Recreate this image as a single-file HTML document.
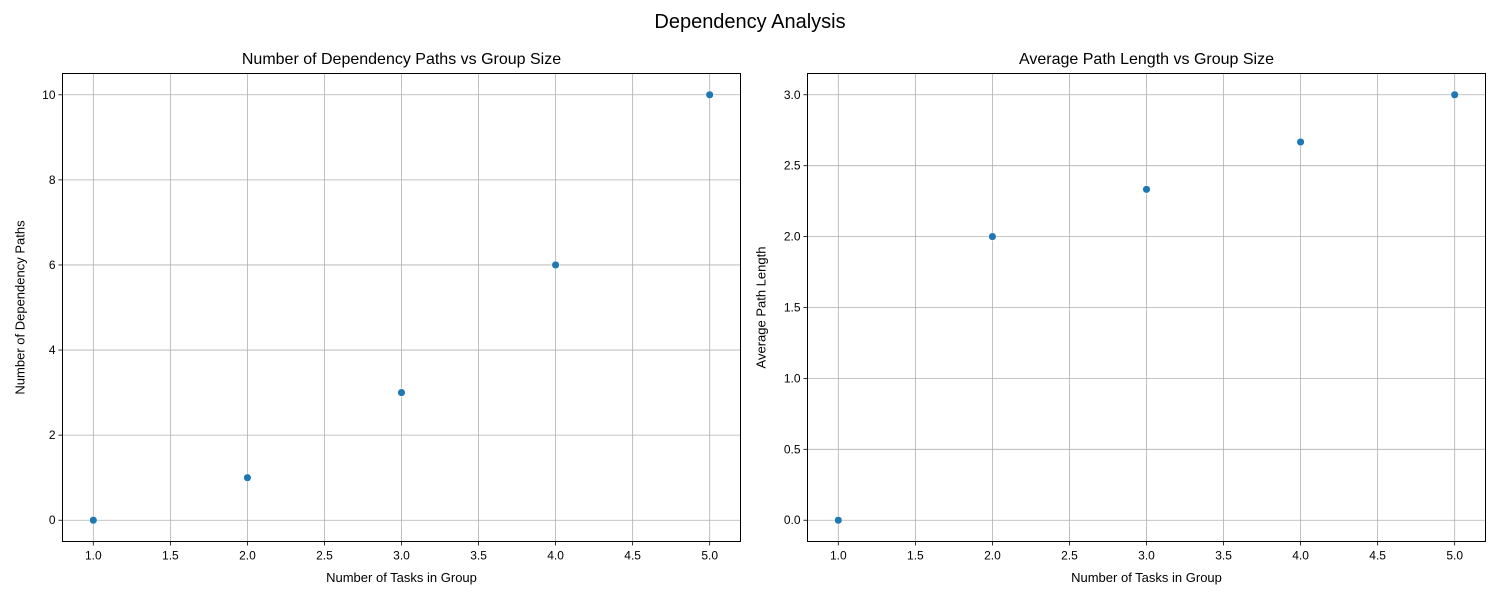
<!DOCTYPE html>
<html><head><meta charset="utf-8"><style>
body{margin:0;background:#fff;font-family:"Liberation Sans",sans-serif}
svg text{font-family:"Liberation Sans","DejaVu Sans",sans-serif;fill:#000}
</style></head><body>
<svg id="fig" width="1500" height="600" xmlns="http://www.w3.org/2000/svg">
<rect width="1500" height="600" fill="#fff"/>
<text x="750" y="28" font-size="20" text-anchor="middle">Dependency Analysis</text>
</svg>
<script>
const groupSizes=[1,2,3,4,5];
const pathCounts=[0,1,3,6,10];
const avgLengths=[0,2,2.333,2.667,3];
const xTicks=[1.0,1.5,2.0,2.5,3.0,3.5,4.0,4.5,5.0];
const yTicksLeft=[0,2,4,6,8,10];
const yTicksRight=[0.0,0.5,1.0,1.5,2.0,2.5,3.0];
const NS='http://www.w3.org/2000/svg';
const svg=document.getElementById('fig');
function mk(t,a,p){const e=document.createElementNS(NS,t);for(const k in a)e.setAttribute(k,a[k]);(p||svg).appendChild(e);return e;}
function panel(name,L,R,xmin,xmax,ymin,ymax,ys,yt,yDec,title,ylabel){
  const T=73.5,B=541.5;
  const sx=v=>L+(v-xmin)/(xmax-xmin)*(R-L);
  const sy=v=>B-(v-ymin)/(ymax-ymin)*(B-T);
  const g=mk('g',{});
  
  
  xTicks.forEach(v=>{const x=sx(v);
    const l=mk('line',{x1:x,x2:x,y1:T,y2:B,stroke:'#b0b0b0','stroke-width':0.8},g);
    
    mk('line',{x1:x,x2:x,y1:B,y2:B+4,stroke:'#000','stroke-width':0.8},g);
    const t=mk('text',{x:x,y:B+18,'font-size':12,'text-anchor':'middle'},g);t.textContent=v.toFixed(1);
    });
  yt.forEach(v=>{const y=sy(v);
    const l=mk('line',{x1:L,x2:R,y1:y,y2:y,stroke:'#b0b0b0','stroke-width':0.8},g);
    
    mk('line',{x1:L-4,x2:L,y1:y,y2:y,stroke:'#000','stroke-width':0.8},g);
    const t=mk('text',{x:L-7,y:y+4,'font-size':12,'text-anchor':'end'},g);t.textContent=v.toFixed(yDec);
    });
  groupSizes.forEach((xv,i)=>{const c=mk('circle',{cx:sx(xv),cy:sy(ys[i]),r:3.8,fill:'#1f77b4',stroke:'#fff','stroke-width':0.5},g);
    });
  const f=mk('rect',{x:L,y:T,width:R-L,height:B-T,fill:'none',stroke:'#000','stroke-width':1},g);
  
  const tt=mk('text',{x:(L+R)/2,y:64,'font-size':16,'text-anchor':'middle'},g);tt.textContent=title;
  
  const xl=mk('text',{x:(L+R)/2,y:582,'font-size':13,'text-anchor':'middle'},g);xl.textContent='Number of Tasks in Group';
  
  const cy=(T+B)/2, cx=L-(yDec?42:38);
  const yl=mk('text',{x:cx,y:cy,'font-size':13,'text-anchor':'middle',transform:`rotate(-90 ${cx} ${cy})`},g);yl.textContent=ylabel;
  
}
panel('left-chart',62.5,740.5,0.8,5.2,-0.5,10.5,pathCounts,yTicksLeft,0,'Number of Dependency Paths vs Group Size','Number of Dependency Paths');
panel('right-chart',807.5,1485.5,0.8,5.2,-0.15,3.15,avgLengths,yTicksRight,1,'Average Path Length vs Group Size','Average Path Length');
</script>
</body></html>
